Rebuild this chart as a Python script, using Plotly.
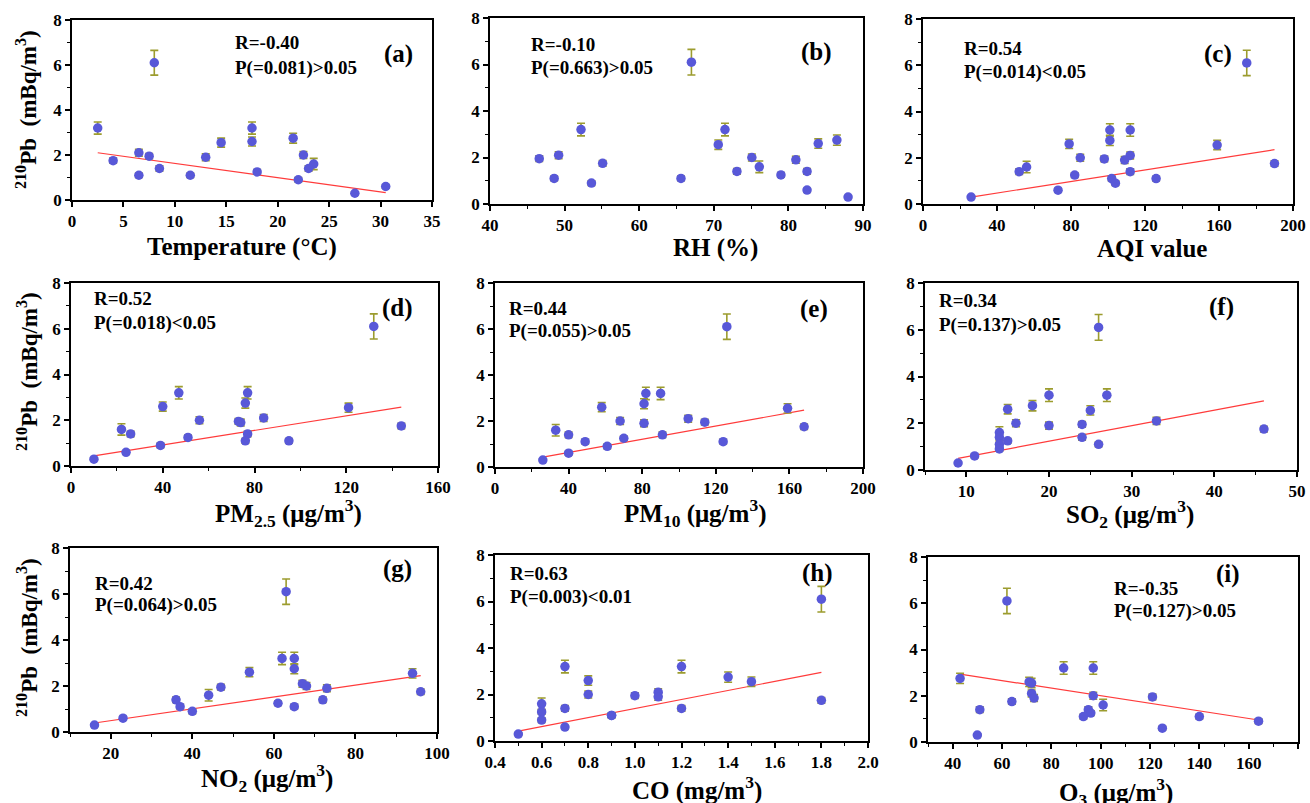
import numpy as np
import plotly.graph_objects as go

W, H = 1310, 803

# 210Pb activity (mBq/m3) and its uncertainty, same sample order for every panel
pb = [6.1, 3.2, 3.2, 2.75, 2.6, 2.55, 2.1, 2.0, 1.95, 1.9, 1.75, 1.6, 1.4, 1.4, 1.25, 1.1, 1.1, 0.9, 0.6, 0.3]
pb_err = [0.55, 0.27, 0.27, 0.22, 0.2, 0.2, 0.15, 0.15, 0.12, 0.15, 0.12, 0.25, 0.12, 0.12, 0.1, 0.1, 0.1, 0.1, 0.08, 0.06]

temperature = [8, 2.5, 17.5, 21.5, 17.5, 14.5, 6.5, 22.5, 7.5, 13, 4, 23.5, 8.5, 23, 18, 6.5, 11.5, 22, 30.5, 27.5]
rh = [67, 52.2, 71.5, 86.5, 84, 70.6, 49.2, 75.1, 46.6, 81, 55.1, 76.1, 73.1, 82.5, 79, 48.6, 65.6, 53.6, 82.5, 88]
aqi = [175, 101, 112, 101, 79, 159, 112, 85, 98, 109, 190, 56, 52, 112, 82, 102, 126, 104, 73, 26]
pm25 = [132, 47, 77, 76, 40, 121, 84, 56, 73, 74, 144, 22, 26, 77, 51, 76, 95, 39, 24, 10]
pm10 = [126, 82, 90, 81, 58, 159, 105, 68, 114, 81, 168, 33, 40, 91, 70, 49, 124, 61, 40, 26]
so2 = [26, 20, 27, 18, 15, 25, 33, 16, 24, 20, 46, 14, 14, 24, 15, 14, 26, 14, 11, 9]
no2 = [63, 62, 65, 65, 54, 94, 67, 68, 47, 73, 96, 44, 36, 72, 61, 37, 65, 40, 23, 16]
co = [1.8, 0.7, 1.2, 1.4, 0.8, 1.5, 1.1, 0.8, 1.0, 1.1, 1.8, 0.6, 0.7, 1.2, 0.6, 0.9, 0.9, 0.6, 0.7, 0.5]
o3 = [62, 85, 97, 43, 71, 72, 72, 97, 121, 73, 64, 101, 51, 95, 96, 93, 140, 164, 125, 50]

# fitted regression lines (slope, intercept); None = no line
fit_slope = [-0.0632, None, 0.0125, 0.01594, 0.01434, 0.0665, 0.02575, 1.946, -0.0164]
fit_intercept = [2.258, None, -0.025, 0.28, 0.06, -0.10, -0.02, -0.55, 3.64]

x_titles = ["Temperature (°C)", "RH (%)", "AQI value",
            "PM<sub>2.5</sub> (μg/m<sup>3</sup>)", "PM<sub>10</sub> (μg/m<sup>3</sup>)", "SO<sub>2</sub> (μg/m<sup>3</sup>)",
            "NO<sub>2</sub> (μg/m<sup>3</sup>)", "CO (mg/m<sup>3</sup>)", "O<sub>3</sub> (μg/m<sup>3</sup>)"]
y_title = "<sup>210</sup>Pb  (mBq/m<sup>3</sup>)"
r_texts = ["R=-0.40", "R=-0.10", "R=0.54", "R=0.52", "R=0.44", "R=0.34", "R=0.42", "R=0.63", "R=-0.35"]
p_texts = ["P(=0.081)>0.05", "P(=0.663)>0.05", "P(=0.014)<0.05", "P(=0.018)<0.05", "P(=0.055)>0.05",
           "P(=0.137)>0.05", "P(=0.064)>0.05", "P(=0.003)<0.01", "P(=0.127)>0.05"]
labels = ["(a)", "(b)", "(c)", "(d)", "(e)", "(f)", "(g)", "(h)", "(i)"]
xdata = [temperature, rh, aqi, pm25, pm10, so2, no2, co, o3]

# axis settings: range, major tick0, dtick, minor dtick
xaxes_cfg = [
    dict(range=[0, 35], tick0=0, dtick=5, minor=None),
    dict(range=[40, 90], tick0=40, dtick=10, minor=5),
    dict(range=[0, 200], tick0=0, dtick=40, minor=20),
    dict(range=[0, 160], tick0=0, dtick=40, minor=20),
    dict(range=[0, 200], tick0=0, dtick=40, minor=20),
    dict(range=[5, 50], tick0=10, dtick=10, minor=5),
    dict(range=[10, 100], tick0=20, dtick=20, minor=10),
    dict(range=[0.4, 2.0], tick0=0.4, dtick=0.2, minor=0.1),
    dict(range=[30, 180], tick0=40, dtick=20, minor=10),
]

# plot-area pixel boxes on screen (left, right, top, bottom)
boxes = [
    (72, 432, 20, 200), (490, 863, 18, 204), (923, 1293, 19, 204),
    (71, 438, 283, 466), (495, 863, 283, 467), (925, 1297, 283, 470),
    (70, 437, 548, 732), (495, 868, 555, 741), (928, 1298, 557, 742),
]
# (R x, R y, P y, label x, label y)
ann_pos = [
    (233, 43, 68, 399, 54),
    (529, 44, 68, 816, 52),
    (962, 48, 72, 1218, 54),
    (92, 299, 323, 397, 308),
    (507, 308, 331, 814, 309),
    (937, 301, 325, 1221, 307),
    (93, 583, 605, 397, 569),
    (508, 573, 597, 817, 573),
    (1112, 588, 611, 1228, 574),
]
# x-title centre (x, y)
xt_pos = [(242, 247), (715, 248), (1152, 248),
          (288, 513), (695, 513), (1130, 514),
          (267, 778), (697, 788), (1116, 792)]
yt_pos = [(26, 110), (27, 372), (27, 638)]


def px(x):
    return x / W


def py_(y):
    return 1 - y / H


FONT = "Liberation Serif"
fig = go.Figure()
layout = dict(width=W, height=H, margin=dict(l=0, r=0, t=0, b=0, autoexpand=False),
              paper_bgcolor="white", plot_bgcolor="white", showlegend=False,
              font=dict(family=FONT, color="black"), template="none")
annotations = []

for i in range(9):
    xa = "x" if i == 0 else f"x{i+1}"
    ya = "y" if i == 0 else f"y{i+1}"
    xk = "xaxis" if i == 0 else f"xaxis{i+1}"
    yk = "yaxis" if i == 0 else f"yaxis{i+1}"
    x0, x1, y0, y1 = boxes[i]
    cfg = xaxes_cfg[i]
    xax = dict(domain=[px(x0), px(x1)], anchor=ya, range=cfg["range"], tick0=cfg["tick0"], dtick=cfg["dtick"],
               automargin=False, showgrid=False, zeroline=False, showline=True, linecolor="black", linewidth=1.5,
               mirror=True, ticks="outside", ticklen=5, tickwidth=1.5, tickcolor="black",
               tickfont=dict(family=FONT, size=17, weight="bold", color="black"))
    if cfg["minor"]:
        xax["minor"] = dict(dtick=cfg["minor"], ticks="outside", ticklen=3, tickwidth=1, tickcolor="black", showgrid=False)
    if i == 7:
        xax["tickformat"] = ".1f"
    yax = dict(domain=[py_(y1), py_(y0)], anchor=xa, range=[0, 8], tick0=0, dtick=2,
               automargin=False, showgrid=False, zeroline=False, showline=True, linecolor="black", linewidth=1.5,
               mirror=True, ticks="outside", ticklen=5, tickwidth=1.5, tickcolor="black",
               minor=dict(dtick=1, ticks="outside", ticklen=3, tickwidth=1, tickcolor="black", showgrid=False),
               tickfont=dict(family=FONT, size=17, weight="bold", color="black"))
    layout[xk] = xax
    layout[yk] = yax

    xs = np.array(xdata[i], dtype=float)
    ys = np.array(pb, dtype=float)
    if fit_slope[i] is not None:
        xl = np.array([xs.min(), xs.max()])
        fig.add_trace(go.Scatter(x=xl, y=fit_slope[i] * xl + fit_intercept[i], mode="lines", xaxis=xa, yaxis=ya,
                                 line=dict(color="#ff3b3b", width=1.2), hoverinfo="skip"))
    fig.add_trace(go.Scatter(x=xs, y=ys, mode="markers", xaxis=xa, yaxis=ya,
                             marker=dict(size=9.5, color="#5858d8", line=dict(width=0)),
                             error_y=dict(type="data", array=pb_err, color="#9c9c2e", thickness=1.6, width=4)))

    rx, ry, pyy, lx, ly = ann_pos[i]
    afont = dict(family=FONT, size=19, weight="bold", color="black")
    annotations.append(dict(xref="paper", yref="paper", x=px(rx), y=py_(ry), text=r_texts[i],
                            showarrow=False, xanchor="left", yanchor="middle", font=afont))
    annotations.append(dict(xref="paper", yref="paper", x=px(rx), y=py_(pyy), text=p_texts[i],
                            showarrow=False, xanchor="left", yanchor="middle", font=afont))
    annotations.append(dict(xref="paper", yref="paper", x=px(lx), y=py_(ly), text=labels[i],
                            showarrow=False, xanchor="center", yanchor="middle",
                            font=dict(family=FONT, size=25, weight="bold", color="black")))
    tx, ty = xt_pos[i]
    annotations.append(dict(xref="paper", yref="paper", x=px(tx), y=py_(ty), text=x_titles[i],
                            showarrow=False, xanchor="center", yanchor="middle",
                            font=dict(family=FONT, size=25, weight="bold", color="black")))

for (tx, ty) in yt_pos:
    annotations.append(dict(xref="paper", yref="paper", x=px(tx), y=py_(ty), text=y_title, textangle=-90,
                            showarrow=False, xanchor="center", yanchor="middle",
                            font=dict(family=FONT, size=23, weight="bold", color="black")))

layout["annotations"] = annotations
fig.update_layout(**layout)
fig.write_html("out.html", config={"displayModeBar": False},
               post_script="document.body.style.margin='0';document.body.style.overflow='hidden';")
